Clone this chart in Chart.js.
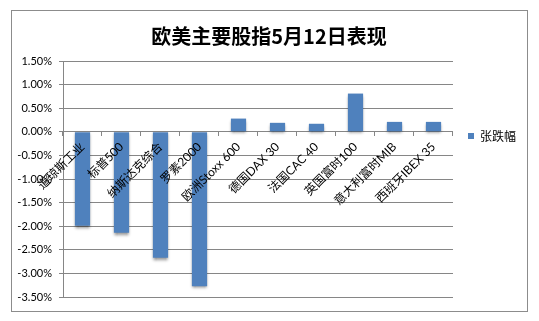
<!DOCTYPE html>
<html>
<head>
<meta charset="utf-8">
<script src="https://cdn.jsdelivr.net/npm/chart.js@4"></script>
<style>
  html, body { margin: 0; padding: 0; background: #fff; }
  #wrap { width: 539px; height: 321px; }
</style>
</head>
<body>
<div id="wrap"><canvas id="stockChart"></canvas></div>
<script>
// data
var indexNames = ["道琼斯工业","标普500","纳斯达克综合","罗素2000","欧洲Stoxx 600","德国DAX 30","法国CAC 40","英国富时100","意大利富时MIB","西班牙IBEX 35"];
var changePct = [-1.99,-2.14,-2.67,-3.27,0.28,0.19,0.17,0.81,0.21,0.21];
var yMin = -3.5, yMax = 1.5, yStep = 0.5;

var gridGray = "#868686";
var latinCjk = "Lato, 'Noto Sans CJK SC', sans-serif";

// white page + outer frame
var framePlugin = {
  id: "frame",
  beforeDraw: function (chart) {
    var c = chart.ctx;
    c.save();
    c.fillStyle = "#fff";
    c.fillRect(0, 0, chart.width, chart.height);
    c.strokeStyle = "#8c8c8c";
    c.lineWidth = 1;
    c.strokeRect(11.5, 10.5, 516, 301);
    c.restore();
  }
};

// soft shadow under bars, like the office chart
var shadowPlugin = {
  id: "barShadow",
  beforeDatasetsDraw: function (chart) {
    var c = chart.ctx;
    c.save();
    c.shadowColor = "rgba(0,0,0,0.45)";
    c.shadowBlur = 3;
    c.shadowOffsetY = 2;
  },
  afterDatasetsDraw: function (chart) {
    chart.ctx.restore();
  }
};

// move legend down next to the zero line
var legendShift = {
  id: "legendShift",
  afterLayout: function (chart) {
    var lg = chart.legend;
    var h = lg.bottom - lg.top;
    lg.top = 115;
    lg.bottom = lg.top + h;
  }
};

var ctx = document.getElementById("stockChart").getContext("2d");

new Chart(ctx, {
  type: "bar",
  data: {
    labels: indexNames,
    datasets: [{
      label: "张跌幅",
      data: changePct,
      backgroundColor: "#4F81BD",
      borderWidth: 0,
      barPercentage: 0.39,
      categoryPercentage: 1
    }]
  },
  options: {
    responsive: true,
    maintainAspectRatio: false,
    animation: false,
    layout: { padding: { left: 12, right: 13, top: 11, bottom: 24 } },
    scales: {
      x: {
        position: { y: 0 },
        grid: { drawOnChartArea: false, color: gridGray, tickLength: 4 },
        border: { color: gridGray },
        ticks: {
          z: 1,
          autoSkip: false,
          minRotation: 45,
          maxRotation: 45,
          padding: 4,
          color: "#000",
          font: { family: latinCjk, size: 12 }
        }
      },
      y: {
        min: yMin,
        max: yMax,
        afterFit: function (s) { s.width = 51; },
        grid: { color: gridGray, tickLength: 4 },
        border: { color: gridGray },
        ticks: {
          stepSize: yStep,
          padding: 7,
          color: "#000",
          font: { family: latinCjk, size: 11 },
          callback: function (v) { return v.toFixed(2) + "%"; }
        }
      }
    },
    plugins: {
      title: {
        display: true,
        text: "欧美主要股指5月12日表现",
        color: "#000",
        font: { family: "'Noto Sans CJK SC', sans-serif", size: 20, weight: "bold" },
        padding: { top: 13, bottom: 13 }
      },
      legend: {
        position: "right",
        align: "start",
        fullSize: false,
        labels: {
          boxWidth: 6,
          boxHeight: 6,
          padding: 15,
          color: "#000",
          font: { family: "'Noto Sans CJK SC', sans-serif", size: 12 }
        }
      },
      tooltip: { enabled: false }
    }
  },
  plugins: [framePlugin, shadowPlugin, legendShift]
});
</script>
</body>
</html>
